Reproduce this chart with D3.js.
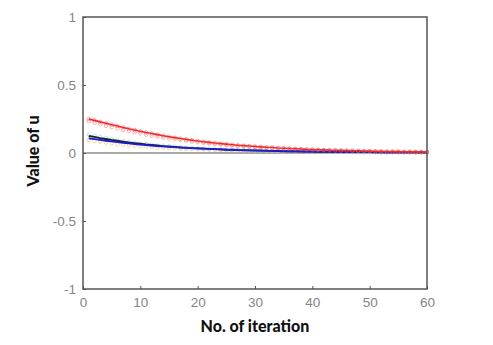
<!DOCTYPE html>
<html>
<head>
<meta charset="utf-8">
<script src="https://cdnjs.cloudflare.com/ajax/libs/d3/7.8.5/d3.min.js"></script>
<style>
  body { margin: 0; background: #fff; }
  .tick text { font-family: Arial, "Liberation Sans", sans-serif; font-size: 13.5px; fill: #858585; }
</style>
</head>
<body>
<div class="chart"></div>
<script>
// iteration number 1..60
var iterations = d3.range(1, 61);

var redLine = [
  0.250,0.240,0.229,0.219,0.208,0.198,0.188,0.178,0.169,0.160,
  0.151,0.143,0.135,0.127,0.120,0.113,0.106,0.100,0.094,0.088,
  0.083,0.078,0.073,0.069,0.065,0.061,0.057,0.054,0.051,0.048,
  0.045,0.042,0.040,0.037,0.035,0.033,0.031,0.029,0.027,0.026,
  0.024,0.023,0.021,0.020,0.019,0.018,0.017,0.016,0.015,0.014,
  0.013,0.012,0.011,0.010,0.010,0.009,0.008,0.008,0.007,0.007];

var redMarks = [
  0.232,0.222,0.211,0.200,0.190,0.180,0.170,0.161,0.152,0.144,
  0.136,0.128,0.121,0.114,0.107,0.101,0.095,0.089,0.084,0.079,
  0.074,0.070,0.066,0.062,0.058,0.055,0.051,0.048,0.046,0.043,
  0.040,0.038,0.036,0.034,0.032,0.030,0.028,0.026,0.025,0.023,
  0.022,0.021,0.019,0.018,0.017,0.016,0.015,0.014,0.013,0.013,
  0.012,0.011,0.010,0.010,0.009,0.008,0.008,0.007,0.007,0.006];

var blackLine = [
  0.125,0.118,0.110,0.103,0.096,0.090,0.084,0.078,0.073,0.068,
  0.063,0.059,0.055,0.051,0.048,0.045,0.042,0.039,0.036,0.034,
  0.032,0.030,0.028,0.026,0.024,0.023,0.021,0.020,0.019,0.018,
  0.017,0.016,0.015,0.014,0.013,0.012,0.012,0.011,0.010,0.010,
  0.009,0.009,0.008,0.008,0.007,0.007,0.007,0.006,0.006,0.006,
  0.005,0.005,0.005,0.005,0.004,0.004,0.004,0.004,0.004,0.003];

var blueLine = [
  0.108,0.102,0.096,0.090,0.085,0.080,0.075,0.070,0.066,0.062,
  0.058,0.055,0.051,0.048,0.045,0.043,0.040,0.038,0.036,0.034,
  0.032,0.030,0.028,0.027,0.025,0.024,0.022,0.021,0.020,0.019,
  0.018,0.017,0.016,0.015,0.014,0.013,0.013,0.012,0.011,0.011,
  0.010,0.010,0.009,0.009,0.008,0.008,0.007,0.007,0.007,0.006,
  0.006,0.006,0.005,0.005,0.005,0.005,0.004,0.004,0.004,0.004];

var cyanMarks = [
  0.135,0.126,0.117,0.109,0.101,0.094,0.087,0.081,0.075,0.070,
  0.065,0.060,0.056,0.052,0.049,0.046,0.043,0.040,0.037,0.035,
  0.033,0.031,0.029,0.027,0.025,0.023,0.022,0.021,0.019,0.018,
  0.017,0.016,0.015,0.014,0.013,0.013,0.012,0.011,0.011,0.010,
  0.010,0.009,0.009,0.008,0.008,0.007,0.007,0.007,0.006,0.006,
  0.006,0.005,0.005,0.005,0.005,0.004,0.004,0.004,0.004,0.004];

var orangeMarks = [
  0.095,0.088,0.082,0.076,0.071,0.066,0.062,0.058,0.054,0.050,
  0.047,0.044,0.041,0.039,0.036,0.034,0.032,0.030,0.028,0.027,
  0.025,0.024,0.022,0.021,0.020,0.019,0.018,0.017,0.016,0.015,
  0.015,0.014,0.013,0.013,0.012,0.012,0.011,0.011,0.010,0.010,
  0.010,0.009,0.009,0.009,0.008,0.008,0.008,0.008,0.007,0.007,
  0.007,0.007,0.006,0.006,0.006,0.006,0.006,0.005,0.005,0.005];

var xTicks = [0, 10, 20, 30, 40, 50, 60];
var yTicks = [-1, -0.5, 0, 0.5, 1];

var w = 493, h = 345;
var margin = {left: 83, right: 66, top: 17, bottom: 56};
var width = w - margin.left - margin.right;
var height = h - margin.top - margin.bottom;

var x = d3.scaleLinear().domain([0, 60]).range([0, width]);
var y = d3.scaleLinear().domain([-1, 1]).range([height, 0]);

var svg = d3.select("div.chart").append("svg")
  .attr("width", w)
  .attr("height", h);

var chartGroup = svg.append("g")
  .attr("transform", "translate(" + margin.left + "," + margin.top + ")");

// plain hyphen for negatives, like the original
var fmt = function(d) { return String(d); };

var xAxis = d3.axisBottom(x).tickValues(xTicks).tickSize(-3).tickPadding(8).tickFormat(fmt);
var yAxis = d3.axisLeft(y).tickValues(yTicks).tickSize(-3).tickPadding(7).tickFormat(fmt);

chartGroup.append("g")
  .attr("class", "x axis")
  .attr("transform", "translate(0," + height + ")")
  .call(xAxis)
  .call(function(g) { g.select(".domain").remove(); g.selectAll("line").attr("stroke", "#555"); });

chartGroup.append("g")
  .attr("class", "y axis")
  .call(yAxis)
  .call(function(g) { g.select(".domain").remove(); g.selectAll("line").attr("stroke", "#555"); });

// zero line
chartGroup.append("line")
  .attr("x1", 0).attr("x2", width)
  .attr("y1", y(0)).attr("y2", y(0))
  .attr("stroke", "#555").attr("stroke-width", 1.2);

var rows = iterations.map(function(it, i) {
  return {it: it, red: redLine[i], redM: redMarks[i], black: blackLine[i],
          blue: blueLine[i], cyan: cyanMarks[i], orange: orangeMarks[i]};
});

function markers(key, color) {
  chartGroup.selectAll("circle." + key)
    .data(rows)
    .enter().append("circle")
      .attr("class", key)
      .attr("cx", function(d) { return x(d.it); })
      .attr("cy", function(d) { return y(d[key]); })
      .attr("r", 1.8)
      .attr("fill", "none")
      .attr("stroke", color)
      .attr("stroke-opacity", 0.55)
      .attr("stroke-width", 1);
}

function line(key, color, sw) {
  var ln = d3.line()
    .x(function(d) { return x(d.it); })
    .y(function(d) { return y(d[key]); });
  chartGroup.append("path")
    .attr("fill", "none")
    .attr("stroke", color)
    .attr("stroke-width", sw)
    .attr("d", ln(rows));
}

markers("orange", "#f5b25a");
markers("cyan", "#7fd3f0");
markers("redM", "#f08080");
line("black", "#222", 1.8);
line("blue", "#1a1ad8", 1.8);
line("red", "#f02020", 1.6);
markers("red", "#ff6060");

// box
chartGroup.append("rect")
  .attr("width", width).attr("height", height)
  .attr("fill", "none")
  .attr("stroke", "#555")
  .attr("stroke-width", 1.5);

svg.append("text")
  .attr("x", margin.left + width / 2)
  .attr("y", 332)
  .attr("text-anchor", "middle")
  .attr("font-family", "Lato, 'Open Sans', sans-serif")
  .attr("font-weight", "900")
  .attr("font-size", 16)
  .attr("fill", "#111")
  .text("No. of iteration");

svg.append("text")
  .attr("transform", "translate(39," + (margin.top + y(0) - 2) + ") rotate(-90)")
  .attr("text-anchor", "middle")
  .attr("font-family", "Lato, 'Open Sans', sans-serif")
  .attr("font-weight", "900")
  .attr("font-size", 16)
  .attr("fill", "#111")
  .text("Value of u");
</script>
</body>
</html>
